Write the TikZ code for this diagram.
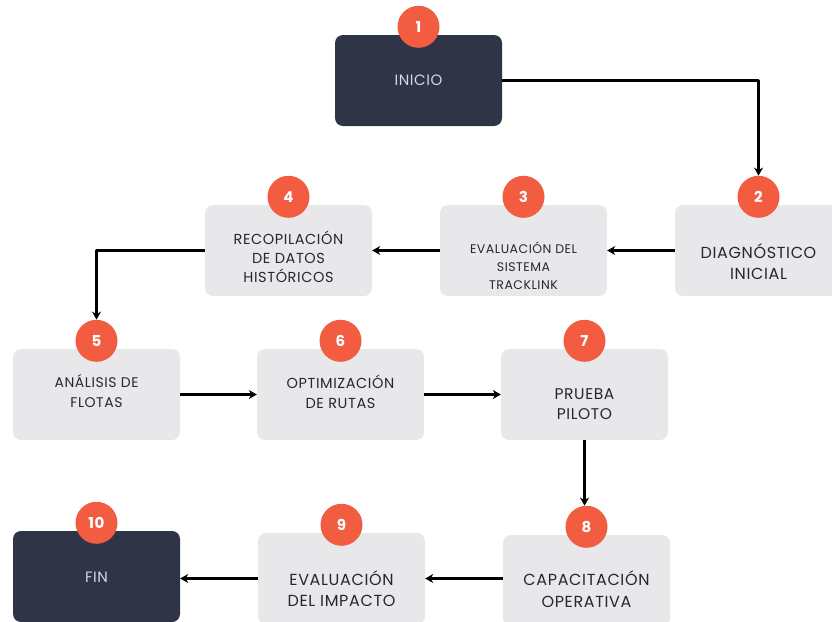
\documentclass[tikz,border=0pt]{standalone}
\usepackage{fontspec}
\setmainfont[LetterSpace=4]{Poppins}
\usetikzlibrary{arrows.meta,calc}
\definecolor{navy}{RGB}{47,52,71}
\definecolor{paleg}{RGB}{232,232,234}
\definecolor{coral}{RGB}{242,92,64}
\definecolor{ink}{RGB}{40,40,44}
\definecolor{mist}{RGB}{214,216,222}

\begin{document}
\begin{tikzpicture}[x=1pt,y=-1pt,line join=round,
  box/.style={rounded corners=8pt,minimum width=167pt,minimum height=91pt,inner sep=0pt},
  stepbox/.style={box,fill=paleg},
  endbox/.style={box,fill=navy},
  badge/.style={circle,fill=coral,minimum size=42pt,inner sep=0pt,text=white,font=\fontsize{15}{15}\selectfont\bfseries},
  lbl/.style 2 args={align=center,text=ink,font=\fontsize{#1}{#2}\selectfont},
  flow/.style={line width=2.2pt,-{Stealth[length=8pt,width=9pt]}}]
  \useasboundingbox (0,0) rectangle (832,621);
  % boxes
  \node[endbox] (b1) at (418.5,80.5) {};
  \foreach \n/\x/\y in {2/758.5/250.5,3/523.5/250.5,4/288.5/250.5,5/96.5/394.5,6/340.5/394.5,7/584.5/394.5,8/586.5/580.5,9/341.5/578.5}
    \node[stepbox] (b\n) at (\x,\y) {};
  \node[endbox] (b10) at (96.5,576.5) {};
  % labels
  \node[lbl={15}{20},text=mist] (t1) at (b1) {INICIO};
  \node[lbl={16}{21}] (t2) at ($(b2)+(0,11)$) {DIAGNÓSTICO\\INICIAL};
  \node[lbl={12.5}{18}] (t3) at ($(b3)+(0,15)$) {EVALUACIÓN DEL\\SISTEMA\\TRACKLINK};
  \node[lbl={14.5}{19}] (t4) at ($(b4)+(0,6)$) {RECOPILACIÓN\\DE DATOS\\HISTÓRICOS};
  \node[lbl={14}{20}] (t5) at ($(b5)+(0,-3)$) {ANÁLISIS DE\\FLOTAS};
  \node[lbl={14.5}{20}] (t6) at ($(b6)+(0,-3)$) {OPTIMIZACIÓN\\DE RUTAS};
  \node[lbl={15.5}{20}] (t7) at ($(b7)+(0,10)$) {PRUEBA\\PILOTO};
  \node[lbl={16}{22}] (t8) at ($(b8)+(0,9)$) {CAPACITACIÓN\\OPERATIVA};
  \node[lbl={16}{21}] (t9) at ($(b9)+(0,10)$) {EVALUACIÓN\\DEL IMPACTO};
  \node[lbl={15}{20},text=mist] (t10) at ($(b10)+(0,1)$) {FIN};
  % number badges
  \foreach \i in {1,...,10} \node[badge] (c\i) at ($(b\i.north)+(0,-8)$) {\i};
  % connectors
  \draw[flow] (b1.east) -| (c2.north);
  \draw[flow] (b2.west) -- (b3.east);
  \draw[flow] (b3.west) -- (b4.east);
  \draw[flow] (b4.west) -| (c5.north);
  \draw[flow] (b5.east) -- (b6.west);
  \draw[flow] (b6.east) -- (b7.west);
  \draw[flow] (b7.south) -- (b7.south |- c8.north);
  \draw[flow] (b8.west |- b9) -- (b9.east);
  \draw[flow] (b9.west) -- (b9.west -| b10.east);
\end{tikzpicture}
\end{document}
